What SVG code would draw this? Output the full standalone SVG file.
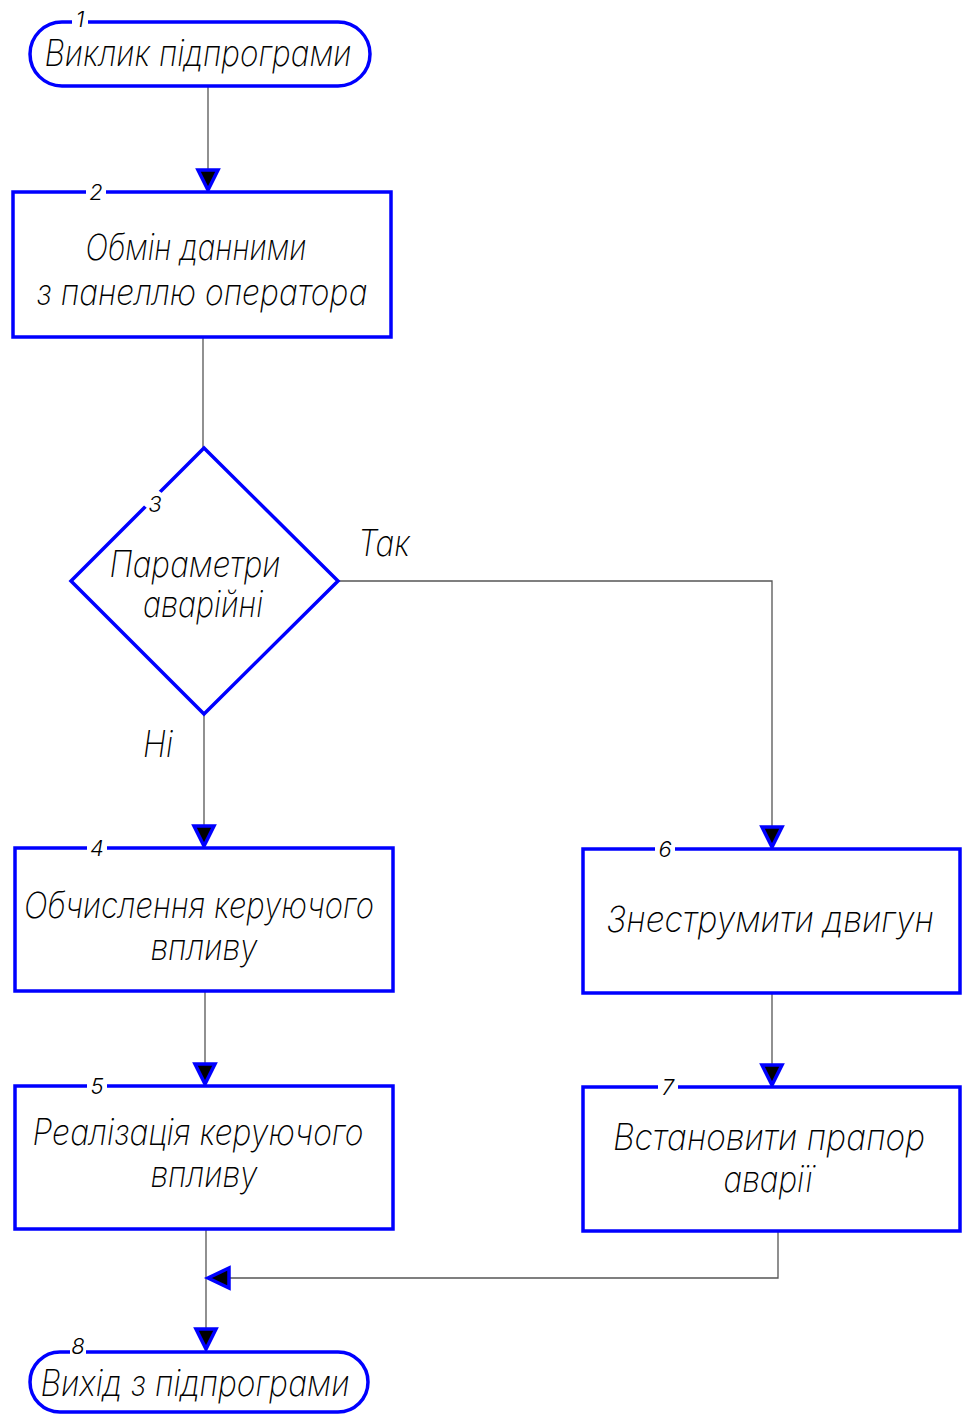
<svg xmlns="http://www.w3.org/2000/svg" width="972" height="1414" viewBox="0 0 972 1414">
<style>
.shape{fill:#fff;stroke:#0000ff;stroke-width:3.5}
.conn{fill:none;stroke:#555;stroke-width:1.3}
.t{font-family:Inter,"Liberation Sans",sans-serif;font-style:italic;font-weight:200;font-size:36px;fill:#000;text-anchor:middle}
.n{font-family:Inter,"Liberation Sans",sans-serif;font-style:italic;font-weight:300;font-size:22px;fill:#000;text-anchor:middle}
.gap{fill:#fff;stroke:none}
.arr{fill:#000;stroke:#0000ff;stroke-width:3.5;stroke-linejoin:miter}
</style>
<rect width="972" height="1414" fill="#fff"/>
<g id="connectors">
<path class="conn" d="M208 86V180"/>
<path class="conn" d="M203 337V448"/>
<path class="conn" d="M338 581H772V836"/>
<path class="conn" d="M204 714V836"/>
<path class="conn" d="M205 991V1074"/>
<path class="conn" d="M772 993V1075"/>
<path class="conn" d="M778 1231V1278H218"/>
<path class="conn" d="M206 1229V1340"/>
<polygon class="arr" points="198,170 218,170 208,190"/>
<polygon class="arr" points="194,826 214,826 204,846"/>
<polygon class="arr" points="195,1064 215,1064 205,1084"/>
<polygon class="arr" points="762,827 782,827 772,847"/>
<polygon class="arr" points="762,1065 782,1065 772,1085"/>
<polygon class="arr" points="229,1268 229,1288 208,1278"/>
<polygon class="arr" points="196,1329 216,1329 206,1349"/>
<text class="t" x="384" y="556" textLength="52" lengthAdjust="spacingAndGlyphs">Так</text>
<text class="t" x="158" y="757" textLength="30" lengthAdjust="spacingAndGlyphs">Ні</text>
</g>
<g id="node1">
<rect class="shape" x="30" y="22" width="340" height="64" rx="32"/>
<rect class="gap" x="72" y="16" width="16" height="12"/>
<text class="n" x="80" y="27">1</text>
<text class="t" x="198" y="66" textLength="307" lengthAdjust="spacingAndGlyphs">Виклик підпрограми</text>
</g>
<g id="node2">
<rect class="shape" x="13" y="192" width="378" height="145"/>
<rect class="gap" x="86" y="186" width="20" height="12"/>
<text class="n" x="96" y="200">2</text>
<text class="t" x="196" y="260" textLength="221" lengthAdjust="spacingAndGlyphs">Обмін данними</text>
<text class="t" x="202" y="305" textLength="331" lengthAdjust="spacingAndGlyphs">з панеллю оператора</text>
</g>
<g id="node3">
<polygon class="shape" points="204,448 338,581 204,714 71,581"/>
<polygon class="gap" points="140,502 152,486 166,496 154,514"/>
<text class="n" x="155" y="512">3</text>
<text class="t" x="195" y="577" textLength="171" lengthAdjust="spacingAndGlyphs">Параметри</text>
<text class="t" x="203" y="617" textLength="120" lengthAdjust="spacingAndGlyphs">аварійні</text>
</g>
<g id="node4">
<rect class="shape" x="15" y="848" width="378" height="143"/>
<rect class="gap" x="87" y="842" width="20" height="12"/>
<text class="n" x="97" y="856">4</text>
<text class="t" x="199" y="918" textLength="350" lengthAdjust="spacingAndGlyphs">Обчислення керуючого</text>
<text class="t" x="204" y="960" textLength="107" lengthAdjust="spacingAndGlyphs">впливу</text>
</g>
<g id="node5">
<rect class="shape" x="15" y="1086" width="378" height="143"/>
<rect class="gap" x="87" y="1080" width="20" height="12"/>
<text class="n" x="97" y="1094">5</text>
<text class="t" x="198" y="1145" textLength="331" lengthAdjust="spacingAndGlyphs">Реалізація керуючого</text>
<text class="t" x="204" y="1187" textLength="107" lengthAdjust="spacingAndGlyphs">впливу</text>
</g>
<g id="node6">
<rect class="shape" x="583" y="849" width="377" height="144"/>
<rect class="gap" x="655" y="843" width="20" height="12"/>
<text class="n" x="665" y="857">6</text>
<text class="t" x="770" y="932" textLength="328" lengthAdjust="spacingAndGlyphs">Знеструмити двигун</text>
</g>
<g id="node7">
<rect class="shape" x="583" y="1087" width="377" height="144"/>
<rect class="gap" x="658" y="1081" width="20" height="12"/>
<text class="n" x="668" y="1095">7</text>
<text class="t" x="769" y="1150" textLength="312" lengthAdjust="spacingAndGlyphs">Встановити прапор</text>
<text class="t" x="768" y="1192" textLength="89" lengthAdjust="spacingAndGlyphs">аварії</text>
</g>
<g id="node8">
<rect class="shape" x="30" y="1352" width="338" height="60" rx="30"/>
<rect class="gap" x="70" y="1346" width="16" height="12"/>
<text class="n" x="78" y="1354">8</text>
<text class="t" x="195" y="1396" textLength="309" lengthAdjust="spacingAndGlyphs">Вихід з підпрограми</text>
</g>
</svg>
